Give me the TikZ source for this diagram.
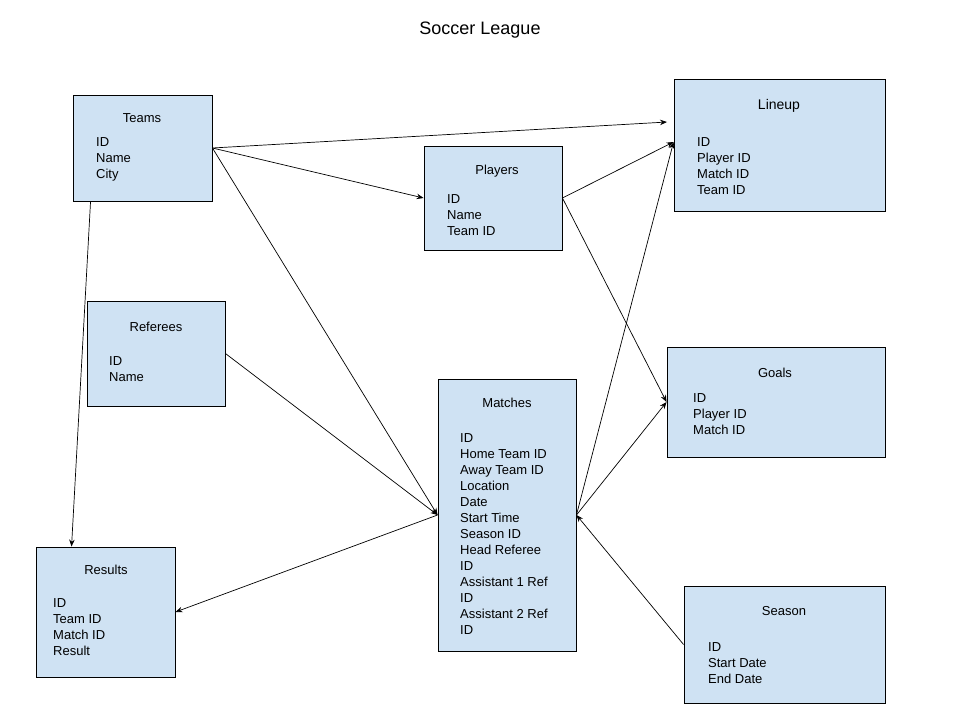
\documentclass[tikz,border=0pt]{standalone}
\usepackage{fontspec}
\setmainfont{Liberation Sans}
\usetikzlibrary{arrows.meta}
\definecolor{boxblue}{HTML}{CFE2F3}
\begin{document}
\begin{tikzpicture}[x=1pt,y=-1pt,
    box/.style={draw=black, fill=boxblue, line width=0.9pt, inner sep=0pt},
    title/.style={inner sep=0pt, font=\fontsize{13}{16}\selectfont},
    field/.style={anchor=base west, inner sep=0pt, font=\fontsize{13}{16}\selectfont},
    link/.style={-{Stealth[length=7pt,width=5.5pt]}, line width=0.7pt}]
    \useasboundingbox (0,0) rectangle (960,720);
    \node[inner sep=0pt, font=\fontsize{18}{22}\selectfont] (heading) at (480,30) {Soccer League};

    % Teams
    \node[box, minimum width=139pt, minimum height=106pt] (teams) at (142.5,148) {};
    \node[title] (teams-t) at (142,118) {Teams};
    \foreach \f [count=\i from 0] in {ID,Name,City}
        \node[field] (teams-\i) at (96,146.5+16*\i) {\f};

    % Players
    \node[box, minimum width=138pt, minimum height=104pt] (players) at (493,198) {};
    \node[title] (players-t) at (497,171) {Players};
    \foreach \f [count=\i from 0] in {ID,Name,Team ID}
        \node[field] (players-\i) at (447,203.5+16*\i) {\f};

    % Lineup
    \node[box, minimum width=211pt, minimum height=132pt] (lineup) at (779.5,145) {};
    \node[title, font=\fontsize{14}{16}\selectfont] (lineup-t) at (779,106) {Lineup};
    \foreach \f [count=\i from 0] in {ID,Player ID,Match ID,Team ID}
        \node[field] (lineup-\i) at (697,146.5+16*\i) {\f};

    % Referees
    \node[box, minimum width=138pt, minimum height=105pt] (referees) at (156,353.5) {};
    \node[title] (referees-t) at (156,327) {Referees};
    \foreach \f [count=\i from 0] in {ID,Name}
        \node[field] (referees-\i) at (109,365.5+16*\i) {\f};

    % Matches
    \node[box, minimum width=138pt, minimum height=272pt] (matches) at (507,515) {};
    \node[title] (matches-t) at (507,403) {Matches};
    \foreach \f [count=\i from 0] in {ID,Home Team ID,Away Team ID,Location,Date,Start Time,Season ID,Head Referee,ID,Assistant 1 Ref,ID,Assistant 2 Ref,ID}
        \node[field] (matches-\i) at (460,442.5+16*\i) {\f};

    % Goals
    \node[box, minimum width=218pt, minimum height=110pt] (goals) at (776,402) {};
    \node[title] (goals-t) at (775,373) {Goals};
    \foreach \f [count=\i from 0] in {ID,Player ID,Match ID}
        \node[field] (goals-\i) at (693,402.5+16*\i) {\f};

    % Results
    \node[box, minimum width=139pt, minimum height=130pt] (results) at (105.5,612) {};
    \node[title] (results-t) at (106,570) {Results};
    \foreach \f [count=\i from 0] in {ID,Team ID,Match ID,Result}
        \node[field] (results-\i) at (53,607.5+16*\i) {\f};

    % Season
    \node[box, minimum width=201pt, minimum height=117pt] (season) at (784.5,644.5) {};
    \node[title] (season-t) at (784,611) {Season};
    \foreach \f [count=\i from 0] in {ID,Start Date,End Date}
        \node[field] (season-\i) at (708,651.5+16*\i) {\f};

    % connectors
    \coordinate (lineup-in) at (667,122);
    \draw[link] (teams.east) -- (lineup-in);
    \draw[link] (teams.east) -- (players.west);
    \draw[link] (teams.east) -- (matches.west);
    \draw[link] ([xshift=18pt]teams.south west) -- ([xshift=36pt]results.north west);
    \draw[link] (referees.east) -- (matches.west);
    \draw[link] (players.east) -- ([yshift=3pt]lineup.west);
    \draw[link] (players.east) -- (goals.west);
    \draw[link] (matches.east) -- ([yshift=3pt]lineup.west);
    \draw[link] (matches.east) -- (goals.west);
    \draw[link] (season.west) -- (matches.east);
    \draw[link] (matches.west) -- (results.east);
\end{tikzpicture}
\end{document}
